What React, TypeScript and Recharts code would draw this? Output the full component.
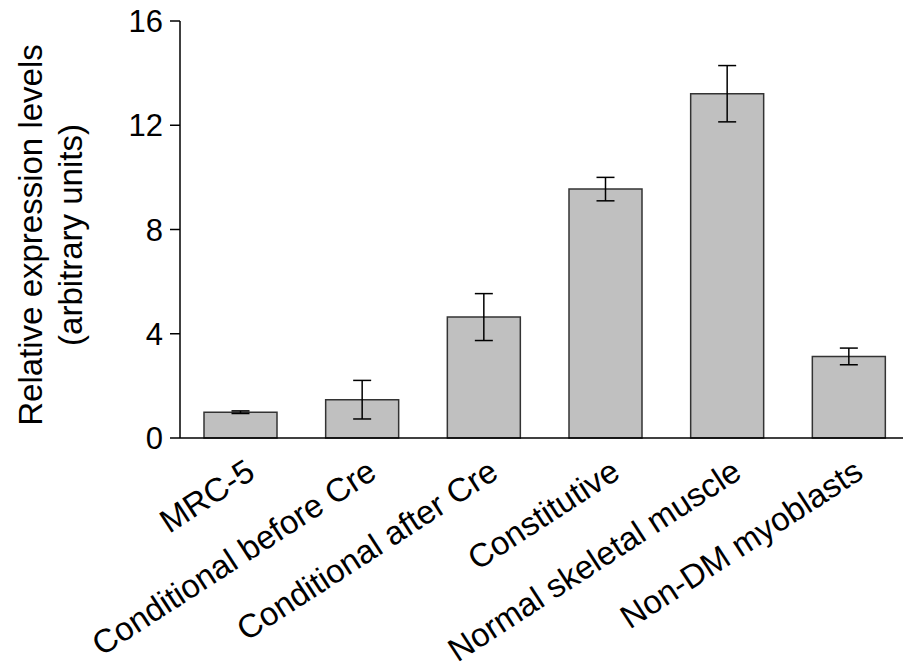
import { Bar, BarChart, ErrorBar, XAxis, YAxis } from 'recharts';

const categories = [
  'MRC-5',
  'Conditional before Cre',
  'Conditional after Cre',
  'Constitutive',
  'Normal skeletal muscle',
  'Non-DM myoblasts',
];
const means = [0.99, 1.47, 4.64, 9.55, 13.21, 3.13];
const errors = [0.05, 0.74, 0.9, 0.45, 1.08, 0.32];
const yTicks = [0, 4, 8, 12, 16];

const FONT = '"Liberation Sans", Arial, sans-serif';

const chartData = categories.map((name, i) => ({ name, value: means[i], err: errors[i] }));

function CategoryTick({ x, y, payload }: any) {
  const ax = x + 16;
  const ay = y + 31;
  return (
    <text
      x={ax}
      y={ay}
      transform={`rotate(-33, ${ax}, ${ay})`}
      textAnchor="end"
      fontSize={33}
      fontFamily={FONT}
      fill="#000"
    >
      {payload.value}
    </text>
  );
}

function AxisTitle() {
  return (
    <g fontFamily={FONT} fontSize={33} fill="#000" textAnchor="middle">
      <text x={42} y={235} transform="rotate(-90, 42, 235)">
        Relative expression levels
      </text>
      <text x={82} y={235} transform="rotate(-90, 82, 235)">
        (arbitrary units)
      </text>
    </g>
  );
}

export default function App() {
  return (
    <div
      style={{
        position: 'fixed',
        left: 0,
        top: 0,
        width: 903,
        height: 672,
        overflow: 'hidden',
        background: '#fff',
      }}
    >
      <BarChart
        width={930}
        height={672}
        data={chartData}
        margin={{ top: 21, right: 20, bottom: 174, left: 120 }}
      >
        <XAxis
          dataKey="name"
          height={60}
          interval={0}
          tickLine={false}
          axisLine={{ stroke: '#000', strokeWidth: 1.5 }}
          tick={<CategoryTick />}
        />
        <YAxis
          width={60}
          domain={[0, 16]}
          ticks={yTicks}
          tickSize={10}
          tickMargin={7}
          axisLine={{ stroke: '#000', strokeWidth: 1.5 }}
          tickLine={{ stroke: '#000', strokeWidth: 1.5 }}
          tick={{ fill: '#000', fontSize: 31, fontFamily: FONT }}
          label={<AxisTitle />}
        />
        <Bar
          dataKey="value"
          barSize={73}
          fill="#c0c0c0"
          stroke="#333"
          strokeWidth={1.5}
          isAnimationActive={false}
        >
          <ErrorBar dataKey="err" width={9} stroke="#000" strokeWidth={1.5} />
        </Bar>
      </BarChart>
    </div>
  );
}
